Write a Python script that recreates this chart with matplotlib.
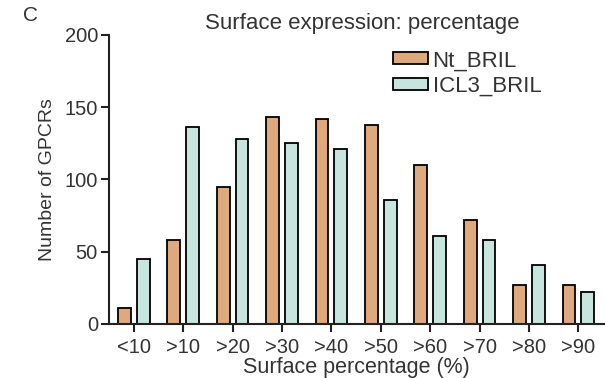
import matplotlib
matplotlib.use('Agg')
import matplotlib.pyplot as plt
import numpy as np

plt.rcParams['font.family'] = ['Liberation Sans', 'DejaVu Sans']

categories = ['<10', '>10', '>20', '>30', '>40', '>50', '>60', '>70', '>80', '>90']
nt_bril = [11, 58, 95, 143, 142, 138, 110, 72, 27, 27]
icl3_bril = [45, 136, 128, 125, 121, 86, 61, 58, 41, 22]
yticks = [0, 50, 100, 150, 200]

x = np.arange(len(categories))

fig = plt.figure(figsize=(6.06, 3.78), dpi=100)
ax = fig.add_axes([0.18, 0.143, 0.8168, 0.7645])

w = 0.26
ax.bar(x - 0.19, nt_bril, width=w, color='#DEA97C', edgecolor='black', linewidth=1.3, label='Nt_BRIL')
ax.bar(x + 0.19, icl3_bril, width=w, color='#C7E4DD', edgecolor='black', linewidth=1.3, label='ICL3_BRIL')

ax.set_xlim(-0.5, 9.52)
ax.set_ylim(0, 200)
ax.set_yticks(yticks)
ax.set_xticks(x)
ax.set_xticklabels(categories)

for s in ['top', 'right']:
    ax.spines[s].set_visible(False)
for s in ['left', 'bottom']:
    ax.spines[s].set_linewidth(1.5)
    ax.spines[s].set_color('#222222')
ax.tick_params(axis='both', length=6, width=1.5, labelsize=14.5, colors='#222222', labelcolor='#333333')
ax.tick_params(axis='x', pad=4)
ax.tick_params(axis='y', pad=2)

ax.set_xlabel('Surface percentage (%)', fontsize=15.5, color='#333333', labelpad=0)
ax.set_ylabel('Number of GPCRs', fontsize=14, color='#333333', labelpad=6)

fig.text(0.597, 0.91, 'Surface expression: percentage', fontsize=16, color='#333333', ha='center', va='bottom')
fig.text(0.038, 0.96, 'C', fontsize=15, color='#333333', ha='left', va='center')

ax.legend(loc='upper left', bbox_to_anchor=(0.556, 0.978), frameon=False, fontsize=16,
          handlelength=1.55, handleheight=0.47, handletextpad=0.22, labelspacing=0.22,
          borderaxespad=0, labelcolor='#333333')

fig.savefig('out.png', dpi=100)
